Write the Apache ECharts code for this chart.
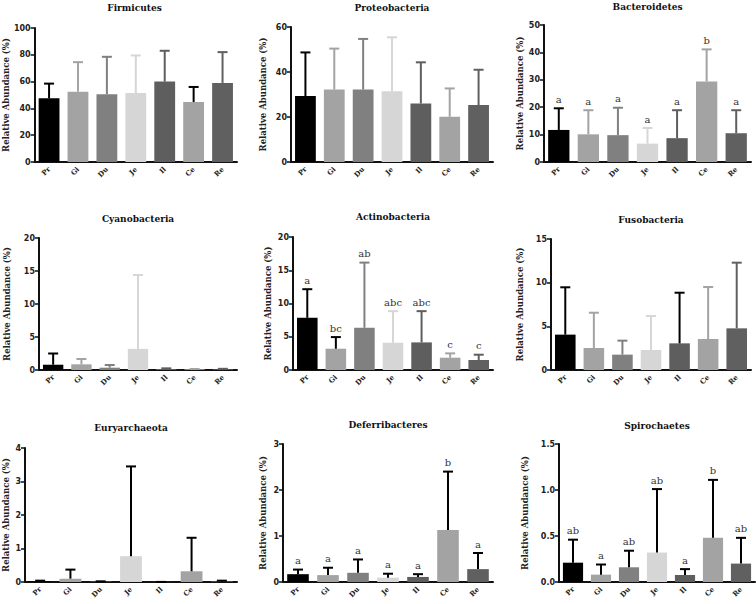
<!DOCTYPE html>
<html>
<head>
<meta charset="utf-8">
<script src="https://cdn.jsdelivr.net/npm/echarts@6/dist/echarts.min.js"></script>
<style>html,body{margin:0;padding:0;background:#fff}#c{width:756px;height:604px}</style>
</head>
<body>
<div id="c"></div>
<script>
// ---------- DATA ----------
const categories = ['Pr', 'Gi', 'Du', 'Je', 'Il', 'Ce', 'Re'];

const firmicutesMean = [47.5, 52.5, 50.5, 51.5, 60, 44.8, 59];
const firmicutesSD   = [11, 22, 28, 28, 23, 11.2, 23];

const proteobacteriaMean = [29.3, 32.2, 32.2, 31.5, 26, 20.1, 25.3];
const proteobacteriaSD   = [19.4, 18.2, 22.5, 23.9, 18.3, 12.6, 15.7];

const bacteroidetesMean = [11.7, 10.1, 9.8, 6.7, 8.7, 29.4, 10.5];
const bacteroidetesSD   = [7.9, 8.8, 10, 5.7, 10.2, 11.7, 8.4];
const bacteroidetesLetters = ['a', 'a', 'a', 'a', 'a', 'b', 'a'];

const cyanobacteriaMean = [0.8, 0.86, 0.35, 3.2, 0.15, 0.1, 0.12];
const cyanobacteriaSD   = [1.7, 0.81, 0.41, 11.2, 0.1, 0.05, 0.06];

const actinobacteriaMean = [7.85, 3.2, 6.35, 4.1, 4.15, 1.85, 1.5];
const actinobacteriaSD   = [4.3, 1.75, 9.8, 4.75, 4.7, 0.65, 0.8];
const actinobacteriaLetters = ['a', 'bc', 'ab', 'abc', 'abc', 'c', 'c'];

const fusobacteriaMean = [4.05, 2.52, 1.76, 2.29, 3.05, 3.55, 4.77];
const fusobacteriaSD   = [5.42, 4.04, 1.6, 3.89, 5.8, 5.95, 7.52];

const euryarchaeotaMean = [0.02, 0.1, 0.01, 0.77, 0.003, 0.32, 0.02];
const euryarchaeotaSD   = [0.02, 0.27, 0.01, 2.68, 0, 1.0, 0.02];

const deferribacteresMean = [0.17, 0.15, 0.2, 0.095, 0.11, 1.13, 0.28];
const deferribacteresSD   = [0.1, 0.16, 0.29, 0.085, 0.06, 1.27, 0.35];
const deferribacteresLetters = ['a', 'a', 'a', 'a', 'a', 'b', 'a'];

const spirochaetesMean = [0.21, 0.08, 0.16, 0.32, 0.076, 0.48, 0.2];
const spirochaetesSD   = [0.25, 0.11, 0.18, 0.69, 0.064, 0.63, 0.28];
const spirochaetesLetters = ['ab', 'a', 'ab', 'ab', 'a', 'b', 'ab'];

// ---------- STYLE / LAYOUT ----------
const barColors = ['#000000', '#a3a3a3', '#808080', '#d6d6d6', '#5e5e5e', '#a3a3a3', '#606060'];
// which error bars are drawn black instead of the bar colour
const blackErr = {
  Firmicutes: [5],
  Actinobacteria: [1],
  Fusobacteria: [4],
  Euryarchaeota: [0,1,2,3,4,5,6],
  Deferribacteres: [0,1,2,3,4,5,6],
  Spirochaetes: [0,1,2,3,4,5,6]
};

const panels = [
  {name:'Firmicutes', mean:firmicutesMean, sd:firmicutesSD, max:100, interval:20, dec:0,
   grid:{left:32, top:28, width:205, height:134}, titleY:8, nameGap:22},
  {name:'Proteobacteria', mean:proteobacteriaMean, sd:proteobacteriaSD, max:60, interval:20, dec:0,
   grid:{left:291, top:27, width:202, height:135}, titleY:8, nameGap:24},
  {name:'Bacteroidetes', mean:bacteroidetesMean, sd:bacteroidetesSD, letters:bacteroidetesLetters, max:50, interval:10, dec:0,
   grid:{left:544, top:25, width:207, height:137}, titleY:7, nameGap:20},
  {name:'Cyanobacteria', mean:cyanobacteriaMean, sd:cyanobacteriaSD, max:20, interval:5, dec:0,
   grid:{left:39, top:238, width:198, height:132}, titleY:219, nameGap:28},
  {name:'Actinobacteria', mean:actinobacteriaMean, sd:actinobacteriaSD, letters:actinobacteriaLetters, max:20, interval:5, dec:0,
   grid:{left:293, top:237, width:200, height:133}, titleY:217, nameGap:21},
  {name:'Fusobacteria', mean:fusobacteriaMean, sd:fusobacteriaSD, max:15, interval:5, dec:0,
   grid:{left:551, top:239, width:200, height:131}, titleY:220, nameGap:27},
  {name:'Euryarchaeota', mean:euryarchaeotaMean, sd:euryarchaeotaSD, max:4, interval:1, dec:0,
   grid:{left:25, top:448, width:212, height:134}, titleY:428, nameGap:15},
  {name:'Deferribacteres', mean:deferribacteresMean, sd:deferribacteresSD, letters:deferribacteresLetters, max:3, interval:1, dec:0,
   grid:{left:283, top:444, width:210, height:138}, titleY:425, nameGap:16},
  {name:'Spirochaetes', mean:spirochaetesMean, sd:spirochaetesSD, letters:spirochaetesLetters, max:1.5, interval:0.5, dec:1,
   grid:{left:559, top:444, width:196, height:138}, titleY:426, nameGap:30}
];

const grids = [], xAxes = [], yAxes = [], series = [], graphics = [];
panels.forEach((p, k) => {
  grids.push(Object.assign({containLabel:false}, p.grid));
  xAxes.push({
    type:'category', gridIndex:k, data:categories,
    axisLine:{lineStyle:{color:'#111', width:2}},
    axisTick:{alignWithLabel:true, length:4, lineStyle:{color:'#111', width:1.5}},
    axisLabel:{rotate:45, margin:6, color:'#222', fontFamily:'DejaVu Serif', fontWeight:'bold', fontSize:7}
  });
  yAxes.push({
    type:'value', gridIndex:k, min:0, max:p.max, interval:p.interval,
    name:'Relative Abundance (%)', nameLocation:'middle', nameGap:p.nameGap,
    nameTextStyle:{fontFamily:'DejaVu Serif', fontWeight:'bold', fontSize:8.5, color:'#222'},
    axisLine:{show:true, lineStyle:{color:'#111', width:2}},
    axisTick:{show:true, length:4, lineStyle:{color:'#111', width:1.5}},
    axisLabel:{margin:4, color:'#222', fontFamily:'DejaVu Sans', fontWeight:'bold', fontSize:8,
      formatter:v => v.toFixed(p.dec)},
    splitLine:{show:false}
  });
  series.push({
    type:'bar', xAxisIndex:k, yAxisIndex:k, barCategoryGap:'28%',
    data:p.mean.map((m, i) => ({value:m, itemStyle:{color:barColors[i]}})),
    z:2
  });
  const blk = blackErr[p.name] || [];
  const letters = p.letters;
  series.push({
    type:'custom', xAxisIndex:k, yAxisIndex:k, z:3,
    data:p.mean.map((m, i) => ({value:[i, m, m + p.sd[i]],
      itemStyle:{color: blk.includes(i) ? '#000000' : barColors[i]}})),
    renderItem:(params, api) => {
      const i = api.value(0);
      const p0 = api.coord([i, api.value(1)]);
      const p1 = api.coord([i, api.value(2)]);
      const color = api.visual('color');
      const capW = 5;
      const children = [
        {type:'line', shape:{x1:p0[0], y1:p0[1], x2:p1[0], y2:p1[1]}, style:{stroke:color, lineWidth:2}},
        {type:'line', shape:{x1:p1[0]-capW, y1:p1[1], x2:p1[0]+capW, y2:p1[1]}, style:{stroke:color, lineWidth:2}}
      ];
      if (letters) {
        children.push({type:'text', x:p1[0], y:p1[1]-4,
          style:{text:letters[params.dataIndex], align:'center', verticalAlign:'bottom',
            font:'10px "DejaVu Serif"', fill:'#333333'}});
      }
      return {type:'group', children};
    }
  });
  graphics.push({
    type:'text', x:p.grid.left + p.grid.width/2, y:p.titleY,
    style:{text:p.name, align:'center', verticalAlign:'middle',
      font:'bold 9px "DejaVu Serif"', fill:'#111'}
  });
});

const chart = echarts.init(document.getElementById('c'), null, {renderer:'svg', width:756, height:604});
chart.setOption({
  animation:false,
  backgroundColor:'#ffffff',
  grid:grids, xAxis:xAxes, yAxis:yAxes, series:series,
  graphic:graphics
});
</script>
</body>
</html>
